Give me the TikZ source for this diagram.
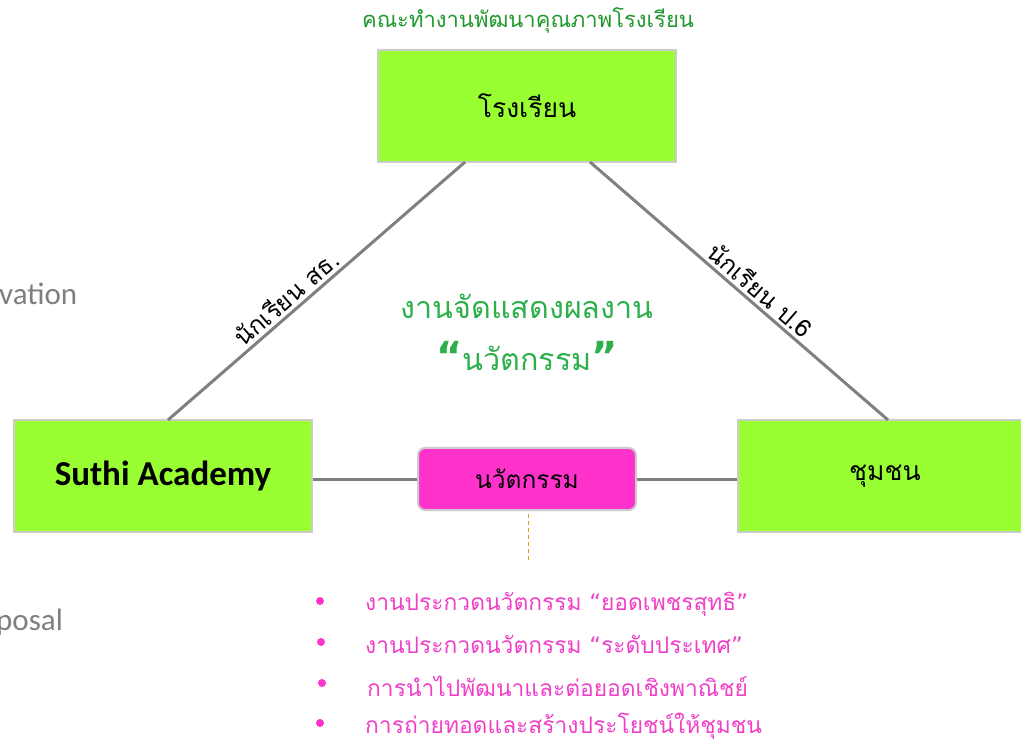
\documentclass[tikz,border=0pt]{standalone}
\usepackage{fontspec}
\setmainfont{Carlito}
\newfontfamily\thai[Script=Thai]{Loma}
\newfontfamily\qfont{DejaVu Sans}
\definecolor{lime}{HTML}{99FF33}
\definecolor{boxline}{HTML}{CCCCCC}
\definecolor{linkgray}{HTML}{808080}
\definecolor{topgreen}{HTML}{22992E}
\definecolor{midgreen}{HTML}{2DB04B}
\definecolor{pinkfill}{HTML}{FF33CC}
\definecolor{pinktext}{HTML}{F040C8}
\definecolor{dashorange}{HTML}{D4A017}
\definecolor{sidegray}{HTML}{7F7F7F}
\newcommand{\myopenq}{{\qfont“}}
\newcommand{\mycloseq}{{\qfont”}}
\newcommand{\bigopenq}{{\qfont\bfseries\fontsize{40}{40}\selectfont“}}
\newcommand{\bigcloseq}{{\qfont\bfseries\fontsize{40}{40}\selectfont”}}
\tikzset{
  limebox/.style={draw=boxline, line width=1.5pt, fill=lime, minimum width=298pt, minimum height=112pt, inner sep=0pt},
  pinkbox/.style={draw=boxline, line width=2pt, fill=pinkfill, rounded corners=7pt, minimum width=218pt, minimum height=62pt, inner sep=0pt},
  link/.style={draw=linkgray, line width=3pt},
  slopelabel/.style={font=\thai\fontsize{24.5}{28}\selectfont, sloped, above, inner sep=3pt},
  bulletitem/.style={anchor=west, text=pinktext, font=\thai\fontsize{22.8}{26}\selectfont, inner sep=0pt},
  bulletdot/.style={circle, fill=pinkfill, minimum size=8pt, inner sep=0pt},
  sidetext/.style={anchor=west, text=sidegray, font=\fontsize{31}{34}\selectfont, inner sep=0pt}
}
\begin{document}
\begin{tikzpicture}[x=1pt,y=-1pt]
\useasboundingbox (0,0) rectangle (1021,743);
\begin{scope}
\clip (0,0) rectangle (1021,743);
% side texts (clipped)
\node[sidetext] (sideA) at (-1,294) {vation};
\node[sidetext] (sideB) at (-4,622) {posal};
% boxes
\node[limebox] (school) at (527,106) {\thai\fontsize{26.5}{30}\selectfont โรงเรียน};
\node[limebox] (suthi) at (163,476) {\fontsize{35}{40}\selectfont\bfseries Suthi Academy};
\node[limebox, minimum width=294pt] (community) at (885,476) {\thai\fontsize{26.5}{30}\selectfont ชุมชน};
\node[pinkbox] (innov) at (527,479) {\thai\fontsize{24.5}{28}\selectfont นวัตกรรม};
\end{scope}
% title above
\node[text=topgreen, font=\thai\fontsize{22}{26}\selectfont] (title) at (528,20) {คณะทำงานพัฒนาคุณภาพโรงเรียน};
% connectors
\coordinate (sL) at (465,162);
\coordinate (sR) at (590,162);
\coordinate (lT) at (168,420);
\coordinate (rT) at (888,420);
\draw[link] (lT) -- node[slopelabel, pos=0.43] (lab1) {นักเรียน สธ.} (sL);
\draw[link] (sR) -- node[slopelabel, pos=0.54] (lab2) {นักเรียน ป.6} (rT);
\draw[link] (suthi.east |- innov.west) -- (innov.west);
\draw[link] (innov.east) -- (community.west |- innov.east);
\coordinate (dashend) at (528,562);
\draw[dashorange, dashed, line width=1pt, dash pattern=on 4pt off 3pt] (528,514) -- (dashend);
% centre text
\node[text=midgreen, font=\thai\fontsize{30.5}{34}\selectfont] (show1) at (527,306) {งานจัดแสดงผลงาน};
\node[text=midgreen, font=\thai\fontsize{30.5}{34}\selectfont] (show2) at (527,356) {\bigopenq นวัตกรรม\bigcloseq};
% bullets
\node[bulletdot] (b1) at (320,601) {};
\node[bulletdot] (b2) at (321,642) {};
\node[bulletdot] (b3) at (322,683) {};
\node[bulletdot] (b4) at (320,723) {};
\node[bulletitem] (t1) at (365,604) {งานประกวดนวัตกรรม \myopenq ยอดเพชรสุทธิ\mycloseq};
\node[bulletitem] (t2) at (365,644) {งานประกวดนวัตกรรม \myopenq ระดับประเทศ\mycloseq};
\node[bulletitem] (t3) at (367,686) {การนำไปพัฒนาและต่อยอดเชิงพาณิชย์};
\node[bulletitem] (t4) at (365,726) {การถ่ายทอดและสร้างประโยชน์ให้ชุมชน};
\end{tikzpicture}
\end{document}
